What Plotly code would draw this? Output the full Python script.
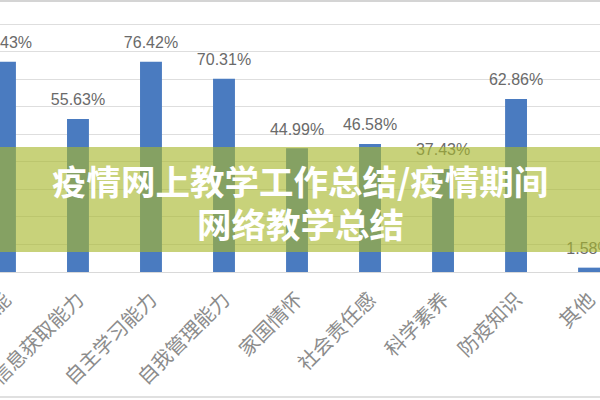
import plotly.graph_objects as go

categories = ["信息技术技能", "信息获取能力", "自主学习能力", "自我管理能力", "家国情怀",
              "社会责任感", "科学素养", "防疫知识", "其他"]
values = [76.43, 55.63, 76.42, 70.31, 44.99, 46.58, 37.43, 62.86, 1.58]
labels = ["76.43%", "55.63%", "76.42%", "70.31%", "44.99%", "46.58%", "37.43%", "62.86%", "1.58%"]
title_lines = ["疫情网上教学工作总结/疫情期间", "网络教学总结"]

fig = go.Figure()
fig.add_trace(go.Bar(x=categories, y=values, width=0.30, marker_color="#4a7bc0",
                     marker_line_width=0, hoverinfo="skip"))
fig.add_trace(go.Scatter(x=categories, y=values, mode="markers+text", text=labels,
                         textposition="top center",
                         marker=dict(size=14, opacity=0),
                         textfont=dict(family="Liberation Sans", size=16, color="#6a6a6a"),
                         hoverinfo="skip", cliponaxis=False))

H = 272.0  # plot area height in px
def py(px):
    return (H - px) / H

fig.add_shape(type="rect", xref="paper", yref="paper", x0=-0.01, x1=1.01,
              y0=py(252), y1=py(147), fillcolor="rgba(168,184,45,0.63)",
              line_width=0, layer="above")
fig.add_annotation(xref="paper", yref="paper", x=0.5, y=py(180), text="<b>" + title_lines[0] + "</b>",
                   showarrow=False, font=dict(family="Noto Sans CJK SC", size=34.5, color="white"),
                   xanchor="center", yanchor="middle")
fig.add_annotation(xref="paper", yref="paper", x=0.5, y=py(223), text="<b>" + title_lines[1] + "</b>",
                   showarrow=False, font=dict(family="Noto Sans CJK SC", size=34.5, color="white"),
                   xanchor="center", yanchor="middle")
# outer border lines of the original image
fig.add_shape(type="line", xref="paper", yref="paper", x0=0, x1=1, y0=py(1), y1=py(1),
              line=dict(color="#d4d4d4", width=2), layer="below")
fig.add_shape(type="line", xref="paper", yref="paper", x0=0, x1=1, y0=py(397), y1=py(397),
              line=dict(color="#e0e0e0", width=2), layer="below")

fig.update_layout(
    width=600, height=400, margin=dict(l=0, r=0, t=0, b=128),
    paper_bgcolor="white", plot_bgcolor="white", showlegend=False,
    xaxis=dict(type="category", range=[-0.068, 8.15], tickangle=-45, automargin=False,
               tickfont=dict(family="Noto Sans CJK SC", size=20, color="#8c8c8c"),
               ticklabelstandoff=7,
               showline=True, linecolor="#d9d9d9", linewidth=1, ticks="",
               showgrid=False),
    yaxis=dict(range=[0, 98.9], dtick=10, showticklabels=False, gridcolor="#dedede",
               zeroline=False, showline=False, automargin=False),
)
fig.update_layout(font=dict(family="Noto Sans CJK SC"))
fig.write_html("out.html")
